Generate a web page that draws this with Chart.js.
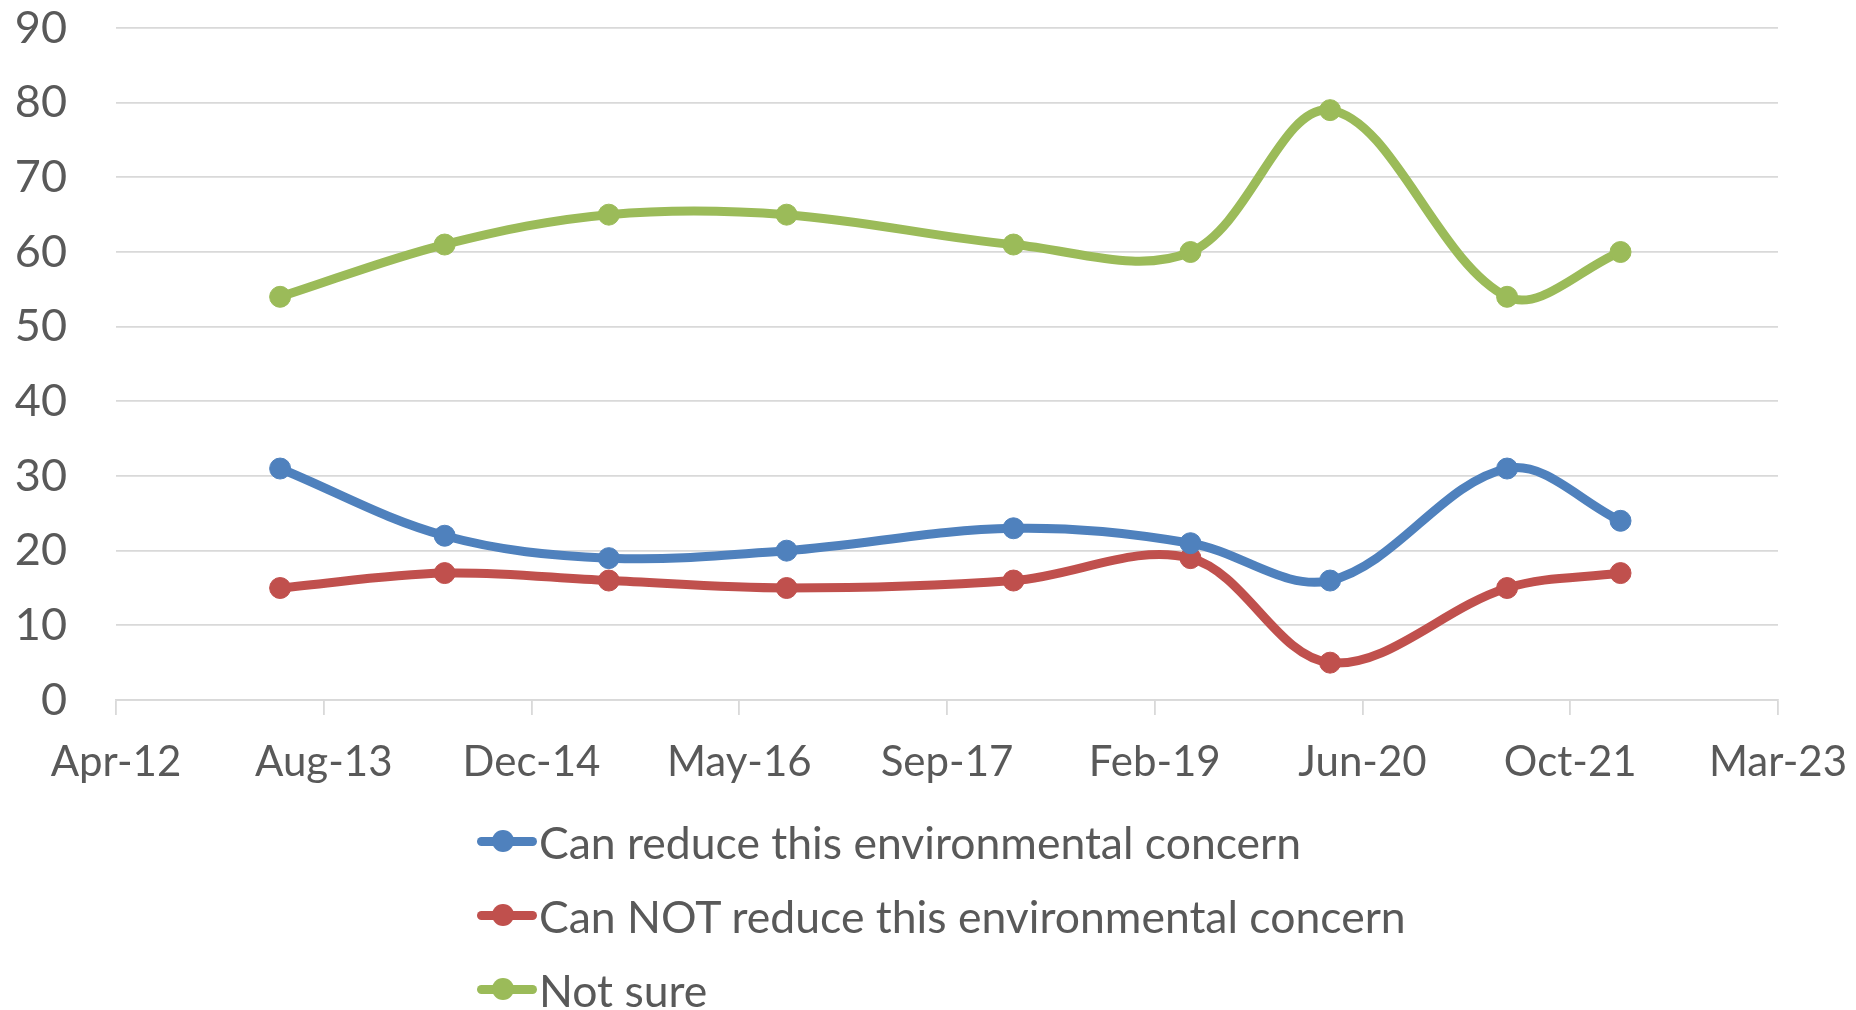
<!DOCTYPE html>
<html>
<head>
<meta charset="utf-8">
<script src="https://cdn.jsdelivr.net/npm/chart.js@4"></script>
<style>
  html, body { margin: 0; padding: 0; background: #fff; }
  #wrap { position: relative; width: 1856px; height: 1010px; overflow: hidden; }
  #legend { position: absolute; left: 477px; top: 804px; font-family: Lato, sans-serif; font-size: 44.5px; color: #595959; }
  .item { display: flex; align-items: center; height: 74px; white-space: nowrap; }
  .swatch { position: relative; width: 60px; height: 22px; margin-right: 2px; flex: none; }
  .swatch .ln { position: absolute; left: 0; right: 0; top: 6.5px; height: 9px; border-radius: 4.5px; }
  .swatch .dot { position: absolute; left: 15px; top: 0; width: 22px; height: 22px; border-radius: 50%; }
</style>
</head>
<body>
<div id="wrap">
  <canvas id="myChart" width="1856" height="1010"></canvas>
  <div id="legend"></div>
</div>
<script>
// survey waves (dates) and the share of answers per wave
const surveyDates = ['2013-05-01', '2014-06-01', '2015-07-01', '2016-09-01', '2018-03-01', '2019-05-01', '2020-04-01', '2021-06-01', '2022-03-01'];
const canReduce = [31, 22, 19, 20, 23, 21, 16, 31, 24];
const canNotReduce = [15, 17, 16, 15, 16, 19, 5, 15, 17];
const notSure = [54, 61, 65, 65, 61, 60, 79, 54, 60];

const seriesNames = ['Can reduce this environmental concern', 'Can NOT reduce this environmental concern', 'Not sure'];
const seriesValues = [canReduce, canNotReduce, notSure];
const seriesColors = ['#4F81BD', '#C0504D', '#9BBB59'];

// x axis: date axis, a tick every 500 days from Apr 1 2012
const axisStart = '2012-04-01';
const tickStepDays = 500;
const xTickLabels = ['Apr-12', 'Aug-13', 'Dec-14', 'May-16', 'Sep-17', 'Feb-19', 'Jun-20', 'Oct-21', 'Mar-23'];
const yMin = 0;
const yMax = 90;
const yStep = 10;

const toDays = s => Date.parse(s) / 86400000;
const xMin = toDays(axisStart);
const xMax = xMin + tickStepDays * (xTickLabels.length - 1);

const textColor = '#595959';
const gridColor = '#d9d9d9';
const fontFamily = 'Lato, sans-serif';

let myChart = document.getElementById('myChart').getContext('2d');
let surveyChart = new Chart(myChart, {
    type: 'line',
    data: {
        datasets: seriesNames.map((name, i) => ({
            label: name,
            data: seriesValues[i].map((v, j) => ({x: toDays(surveyDates[j]), y: v})),
            borderColor: seriesColors[i],
            backgroundColor: seriesColors[i],
            borderWidth: 9,
            pointRadius: 10.5,
            pointBorderWidth: 1,
            pointHoverRadius: 10.5,
            tension: 0.35,
            fill: false
        }))
    },
    options: {
        responsive: false,
        animation: false,
        layout: {
            padding: {left: 0, right: 78, top: 28, bottom: 220}
        },
        plugins: {
            legend: {display: false},
            tooltip: {enabled: false}
        },
        scales: {
            x: {
                type: 'linear',
                min: xMin,
                max: xMax,
                afterBuildTicks: scale => {
                    scale.ticks = xTickLabels.map((l, i) => ({value: xMin + i * tickStepDays}));
                },
                afterFit: scale => {
                    scale.height = 90;
                    scale.paddingLeft = 0;
                    scale.paddingRight = 0;
                },
                ticks: {
                    autoSkip: false,
                    maxRotation: 0,
                    padding: 22,
                    color: textColor,
                    font: {family: fontFamily, size: 42},
                    callback: (v, i) => xTickLabels[i]
                },
                grid: {
                    drawOnChartArea: false,
                    drawTicks: true,
                    tickLength: 15,
                    color: gridColor,
                    lineWidth: 1.8
                },
                border: {display: true, color: gridColor, width: 1.8}
            },
            y: {
                min: yMin,
                max: yMax,
                afterFit: scale => {
                    scale.width = 116;
                    scale.paddingTop = 0;
                    scale.paddingBottom = 0;
                },
                ticks: {
                    stepSize: yStep,
                    padding: 49,
                    color: textColor,
                    font: {family: fontFamily, size: 45}
                },
                grid: {
                    drawTicks: false,
                    color: gridColor,
                    lineWidth: 1.8
                },
                border: {display: false}
            }
        }
    }
});

// legend: one row per series, stacked like the original
const legend = document.getElementById('legend');
surveyChart.data.datasets.forEach(ds => {
    const item = document.createElement('div');
    item.className = 'item';
    item.innerHTML = '<span class="swatch"><span class="ln"></span><span class="dot"></span></span>';
    item.querySelector('.ln').style.background = ds.borderColor;
    item.querySelector('.dot').style.background = ds.borderColor;
    const txt = document.createElement('span');
    txt.textContent = ds.label;
    item.appendChild(txt);
    legend.appendChild(item);
});
</script>
</body>
</html>
